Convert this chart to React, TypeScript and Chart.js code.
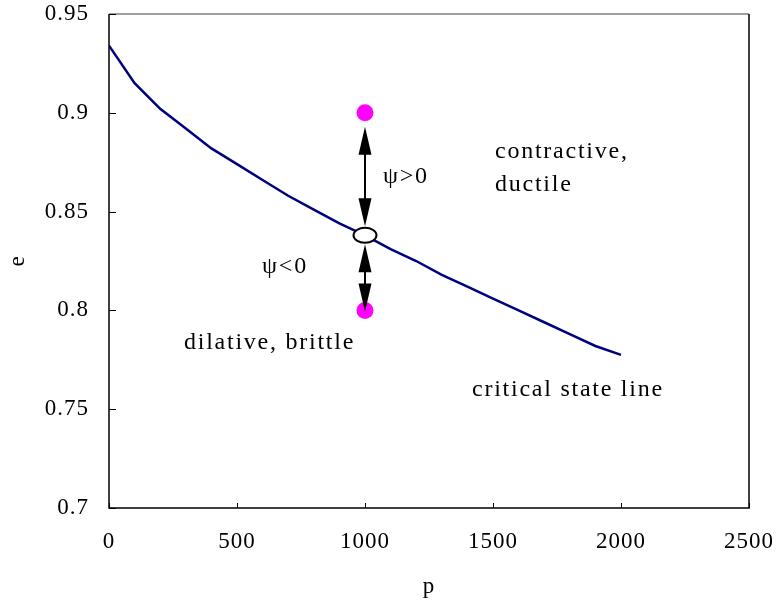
import React, { useEffect, useRef } from "react";
import { Chart, registerables } from "chart.js";

Chart.register(...registerables);

// Critical state line: void ratio e versus mean effective stress p
const pValues = [0, 100, 200, 300, 400, 500, 600, 700, 800, 900, 1000, 1100, 1200, 1300, 1400, 1500, 1600, 1700, 1800, 1900, 2000];
const eValues = [0.934, 0.915, 0.902, 0.892, 0.882, 0.874, 0.866, 0.858, 0.851, 0.844, 0.838, 0.831, 0.825, 0.818, 0.812, 0.806, 0.8, 0.794, 0.788, 0.782, 0.7775];

// Two soil states at the same pressure, one loose and one dense
const stateP = 1000;
const stateE = [0.9, 0.8];
// Point on the critical state line at that pressure
const cslE = 0.838;

// Text notes placed in data coordinates (left edge, vertical middle)
const notes = [
  { text: "contractive,", p: 1508, e: 0.8804 },
  { text: "ductile", p: 1508, e: 0.8637 },
  { text: "ψ>0", p: 1070, e: 0.8678 },
  { text: "ψ<0", p: 598, e: 0.8222 },
  { text: "dilative, brittle", p: 293, e: 0.7838 },
  { text: "critical state line", p: 1418, e: 0.76 },
];

const FONT = "'Liberation Serif', 'Times New Roman', serif";

function drawDoubleArrow(ctx: CanvasRenderingContext2D, x: number, yTop: number, yBot: number) {
  const head = 28;
  const half = 6.5;
  ctx.save();
  ctx.strokeStyle = "#000";
  ctx.fillStyle = "#000";
  ctx.lineWidth = 2;
  ctx.beginPath();
  ctx.moveTo(x, yTop + head * 0.5);
  ctx.lineTo(x, yBot - head * 0.5);
  ctx.stroke();
  ctx.beginPath();
  ctx.moveTo(x, yTop);
  ctx.lineTo(x - half, yTop + head);
  ctx.lineTo(x + half, yTop + head);
  ctx.closePath();
  ctx.fill();
  ctx.beginPath();
  ctx.moveTo(x, yBot);
  ctx.lineTo(x - half, yBot - head);
  ctx.lineTo(x + half, yBot - head);
  ctx.closePath();
  ctx.fill();
  ctx.restore();
}

const overlayPlugin = {
  id: "stateOverlay",
  beforeDraw(chart: any) {
    (chart.ctx as any).letterSpacing = "1px";
  },
  afterDatasetsDraw(chart: any) {
    const { ctx, chartArea: a, scales } = chart;
    const xs = scales.x;
    const ys = scales.y;

    // frame: gray top edge, black other edges
    ctx.save();
    ctx.lineWidth = 1.5;
    ctx.strokeStyle = "#808080";
    ctx.beginPath();
    ctx.moveTo(a.left, a.top);
    ctx.lineTo(a.right, a.top);
    ctx.stroke();
    ctx.strokeStyle = "#000";
    ctx.beginPath();
    ctx.moveTo(a.left, a.top);
    ctx.lineTo(a.left, a.bottom);
    ctx.lineTo(a.right, a.bottom);
    ctx.lineTo(a.right, a.top);
    ctx.stroke();

    // inward tick marks
    ctx.lineWidth = 1;
    xs.ticks.forEach((t: any) => {
      const px = Math.round(xs.getPixelForValue(t.value)) + 0.5;
      ctx.beginPath();
      ctx.moveTo(px, a.bottom);
      ctx.lineTo(px, a.bottom - 5);
      ctx.stroke();
    });
    ys.ticks.forEach((t: any) => {
      const py = Math.round(ys.getPixelForValue(t.value)) + 0.5;
      ctx.beginPath();
      ctx.moveTo(a.left, py);
      ctx.lineTo(a.left + 7, py);
      ctx.stroke();
    });
    ctx.restore();

    const cx = xs.getPixelForValue(stateP);
    const yc = ys.getPixelForValue(cslE);
    const yUp = ys.getPixelForValue(stateE[0]);
    const yDn = ys.getPixelForValue(stateE[1]);

    drawDoubleArrow(ctx, cx, yUp + 14, yc - 9);
    drawDoubleArrow(ctx, cx, yc + 9, yDn + 1);

    // open ellipse marking the critical state
    ctx.save();
    ctx.beginPath();
    ctx.ellipse(cx, yc, 11.5, 7.5, 0, 0, Math.PI * 2);
    ctx.fillStyle = "#fff";
    ctx.fill();
    ctx.lineWidth = 2;
    ctx.strokeStyle = "#000";
    ctx.stroke();
    ctx.restore();

    // notes
    ctx.save();
    ctx.font = `24px ${FONT}`;
    (ctx as any).letterSpacing = "1.75px";
    ctx.fillStyle = "#000";
    ctx.textAlign = "left";
    ctx.textBaseline = "middle";
    notes.forEach((n) => {
      ctx.fillText(n.text, xs.getPixelForValue(n.p), ys.getPixelForValue(n.e));
    });
    ctx.restore();
  },
};

export default function App() {
  const canvasRef = useRef<HTMLCanvasElement | null>(null);

  useEffect(() => {
    if (!canvasRef.current) return;
    const chart = new Chart(canvasRef.current, {
      type: "scatter",
      data: {
        datasets: [
          {
            label: "critical state line",
            type: "line",
            data: pValues.map((p, i) => ({ x: p, y: eValues[i] })),
            borderColor: "#000080",
            borderWidth: 2.5,
            pointRadius: 0,
            tension: 0,
          },
          {
            label: "states",
            data: stateE.map((e) => ({ x: stateP, y: e })),
            backgroundColor: "#ff00ff",
            borderColor: "#ff00ff",
            pointRadius: 8.5,
            pointBorderWidth: 0,
          },
        ],
      },
      options: {
        animation: false,
        responsive: true,
        maintainAspectRatio: false,
        layout: { padding: { top: 14, right: 27, left: 0, bottom: 0 } },
        plugins: { legend: { display: false }, tooltip: { enabled: false } },
        scales: {
          x: {
            type: "linear",
            min: 0,
            max: 2500,
            ticks: {
              stepSize: 500,
              color: "#000",
              font: { family: FONT, size: 23 },
              padding: 20,
              maxRotation: 0,
              callback: (v: any) => String(v),
            },
            grid: { display: false, drawTicks: false },
            border: { display: false },
            title: { display: true, text: "p", color: "#000", font: { family: FONT, size: 23 }, padding: { top: 0, bottom: 0 } },
            afterFit: (s: any) => {
              s.height = 93;
              s.paddingLeft = 0;
              s.paddingRight = 0;
            },
          },
          y: {
            type: "linear",
            min: 0.7,
            max: 0.95,
            ticks: {
              stepSize: 0.05,
              color: "#000",
              font: { family: FONT, size: 23 },
              padding: 20,
              callback: (v: any) => String(Number(Number(v).toFixed(2))),
            },
            grid: { display: false, drawTicks: false },
            border: { display: false },
            title: { display: true, text: "e", color: "#000", font: { family: FONT, size: 23 }, padding: { top: 4, bottom: 0 } },
            afterFit: (s: any) => {
              s.width = 109;
              s.paddingTop = 0;
              s.paddingBottom = 0;
            },
          },
        },
      },
      plugins: [overlayPlugin],
    });
    return () => chart.destroy();
  }, []);

  return (
    <div style={{ position: "absolute", left: 0, top: 0, width: 776, height: 601, background: "#fff" }}>
      <canvas ref={canvasRef} />
    </div>
  );
}
